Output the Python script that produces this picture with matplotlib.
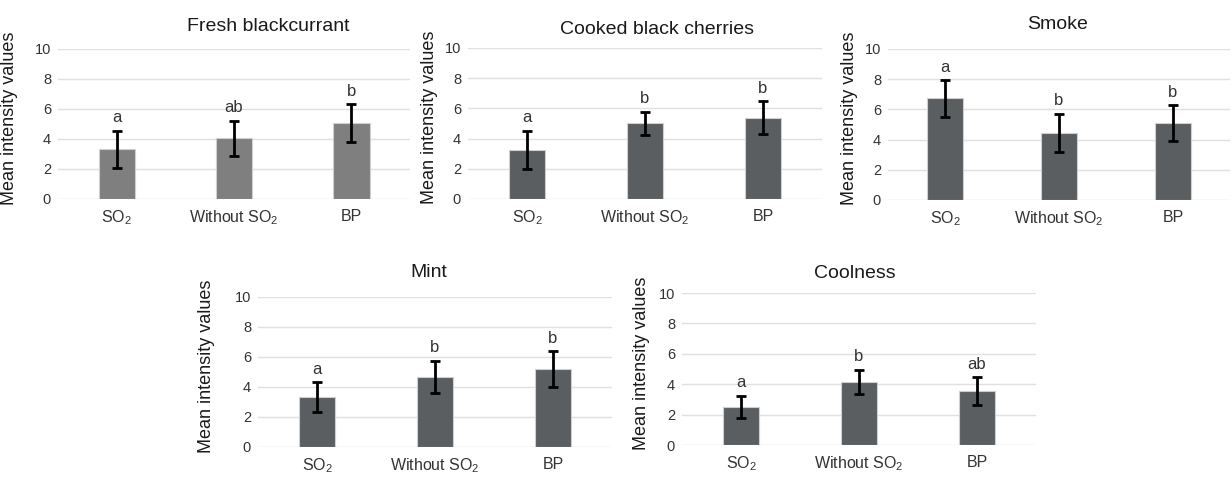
import matplotlib
matplotlib.use("Agg")
import matplotlib.pyplot as plt

plt.rcParams["font.family"] = ["Liberation Sans", "DejaVu Sans"]
plt.rcParams["mathtext.fontset"] = "custom"
plt.rcParams["mathtext.rm"] = "Liberation Sans"
plt.rcParams["mathtext.default"] = "regular"

treatments = ["SO$_2$", "Without SO$_2$", "BP"]
attributes = ["Fresh blackcurrant", "Cooked black cherries", "Smoke", "Mint", "Coolness"]

blackcurrant_mean = [3.3, 4.05, 5.05]
blackcurrant_err = [1.25, 1.17, 1.26]
blackcurrant_letters = ["a", "ab", "b"]

cherries_mean = [3.25, 5.0, 5.38]
cherries_err = [1.28, 0.78, 1.1]
cherries_letters = ["a", "b", "b"]

smoke_mean = [6.72, 4.45, 5.08]
smoke_err = [1.2, 1.26, 1.2]
smoke_letters = ["a", "b", "b"]

mint_mean = [3.3, 4.65, 5.18]
mint_err = [1.0, 1.08, 1.2]
mint_letters = ["a", "b", "b"]

coolness_mean = [2.5, 4.15, 3.55]
coolness_err = [0.75, 0.79, 0.92]
coolness_letters = ["a", "b", "ab"]


def draw_panel(ax, title, means, errs, letters, color, ylabel_x, title_xy):
    x = range(len(treatments))
    ax.bar(x, means, width=0.31, color=color, edgecolor="#cfcfcf", linewidth=0.8, zorder=3)
    ax.errorbar(x, means, yerr=errs, fmt="none", ecolor="black", elinewidth=2,
                capsize=3.6, capthick=2, zorder=4)
    for xi, m, e, lab in zip(x, means, errs, letters):
        ax.annotate(lab, (xi, m + e), xytext=(0, 4), textcoords="offset points",
                    ha="center", va="bottom", fontsize=12, color="#333333")
    ax.set_xlim(-0.5, 2.5)
    ax.set_ylim(0, 10)
    ax.set_yticks([0, 2, 4, 6, 8, 10])
    ax.set_xticks(list(x))
    ax.set_xticklabels(treatments, fontsize=11.5, color="#333333")
    ax.tick_params(axis="y", labelsize=10.5, labelcolor="#333333", length=0, pad=5)
    ax.tick_params(axis="x", length=0, pad=7)
    ax.grid(axis="y", color="#e0e0e0", linewidth=1, zorder=0)
    ax.set_axisbelow(True)
    for s in ax.spines.values():
        s.set_visible(False)
    ax.set_ylabel("Mean intensity values", fontsize=13, color="#1a1a1a")
    ax.yaxis.set_label_coords(ylabel_x, 0.54)
    ax.text(title_xy[0], title_xy[1], title, transform=ax.transAxes,
            ha="center", va="center", fontsize=14, color="#1a1a1a")


def main():
    fig = plt.figure(figsize=(12.32, 4.78), dpi=100)
    ax1 = fig.add_axes([0.0471, 0.5837, 0.2857, 0.3138])
    ax2 = fig.add_axes([0.3799, 0.5837, 0.2873, 0.316])
    ax3 = fig.add_axes([0.7208, 0.5816, 0.2776, 0.316])
    ax4 = fig.add_axes([0.2094, 0.0649, 0.2873, 0.3138])
    ax5 = fig.add_axes([0.5536, 0.069, 0.2873, 0.318])

    draw_panel(ax1, attributes[0], blackcurrant_mean, blackcurrant_err, blackcurrant_letters,
               "#7f7f7f", -0.114, (0.597, 1.15))
    draw_panel(ax2, attributes[1], cherries_mean, cherries_err, cherries_letters,
               "#5b5e61", -0.085, (0.534, 1.12))
    draw_panel(ax3, attributes[2], smoke_mean, smoke_err, smoke_letters,
               "#5b5e61", -0.088, (0.497, 1.16))
    draw_panel(ax4, attributes[3], mint_mean, mint_err, mint_letters,
               "#5b5e61", -0.121, (0.483, 1.16))
    draw_panel(ax5, attributes[4], coolness_mean, coolness_err, coolness_letters,
               "#5b5e61", -0.09, (0.489, 1.13))

    fig.savefig("out.png", dpi=100)


if __name__ == '__main__':
    main()
